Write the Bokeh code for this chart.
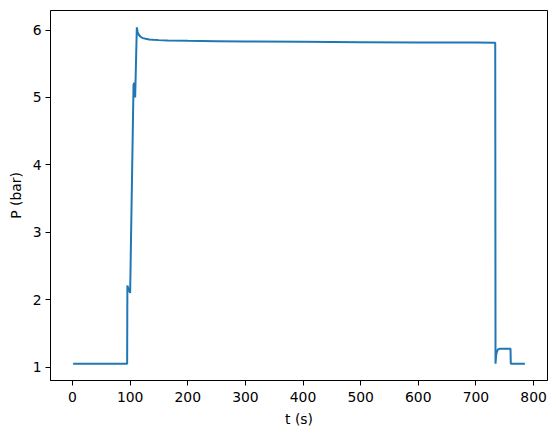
from bokeh.plotting import figure
from bokeh.models import Range1d, ColumnDataSource
from bokeh.embed import file_html
from bokeh.resources import INLINE

# time (s) and pressure (bar)
t_s = [1, 20, 40, 60, 80, 94.8, 95.2, 97, 100, 105.9, 106.3, 106.8, 107.3, 107.8, 108.7,
       111.6, 113, 115, 118, 122, 127, 133, 140, 150, 165, 200, 250, 300, 400, 500,
       600, 700, 733.5, 734, 735, 736.5, 738, 741, 760, 760.5, 785]
P_bar = [1.05, 1.05, 1.05, 1.05, 1.05, 1.05, 2.21, 2.16, 2.10, 5.20, 5.00, 5.22, 5.00, 5.20, 5.00,
         6.04, 5.97, 5.93, 5.90, 5.88, 5.87, 5.86, 5.855, 5.85, 5.845, 5.84, 5.835, 5.83, 5.825, 5.82,
         5.815, 5.815, 5.81, 1.05, 1.17, 1.23, 1.26, 1.27, 1.27, 1.05, 1.05]

x_ticks = [0, 100, 200, 300, 400, 500, 600, 700, 800]
y_ticks = [1, 2, 3, 4, 5, 6]
x_title = "t (s)"
y_title = "P (bar)"

FONT = "DejaVu Sans"
FS = "13.9px"

tmin, tmax = min(t_s), max(t_s)
pmin, pmax = min(P_bar), max(P_bar)
dx = 0.05 * (tmax - tmin)
dy = 0.05 * (pmax - pmin)
x0, x1 = tmin - dx, tmax + dx
y0, y1 = pmin - dy, pmax + dy

W, H = 548, 434
p = figure(width=W, height=H, output_backend="svg", toolbar_location=None,
           x_range=Range1d(x0, x1), y_range=Range1d(y0, y1),
           min_border_left=50, min_border_right=1, min_border_top=10, min_border_bottom=54)

src = ColumnDataSource(dict(t=t_s, P=P_bar))
p.line("t", "P", source=src, line_color="#1f77b4", line_width=2)

p.xgrid.visible = False
p.ygrid.visible = False
p.outline_line_color = "black"
p.outline_line_width = 1
p.background_fill_color = "white"
p.border_fill_color = "white"

for ax in (p.xaxis[0], p.yaxis[0]):
    ax.axis_line_color = "black"
    ax.axis_line_width = 1
    ax.major_tick_line_color = "black"
    ax.major_tick_line_width = 1
    ax.major_tick_out = 5
    ax.major_tick_in = 0
    ax.minor_tick_line_color = None
    ax.major_label_text_font = FONT
    ax.major_label_text_font_size = FS
    ax.major_label_text_color = "black"
    ax.major_label_standoff = 4
    ax.axis_label_text_font = FONT
    ax.axis_label_text_font_size = FS
    ax.axis_label_text_font_style = "normal"
    ax.axis_label_text_color = "black"
p.xaxis.ticker = x_ticks
p.yaxis.ticker = y_ticks
p.xaxis.axis_label = x_title
p.yaxis.axis_label = y_title
p.xaxis.major_label_standoff = 6
p.xaxis.axis_label_standoff = 6
p.yaxis.axis_label_standoff = 6

open("out.html", "w").write(file_html(p, INLINE))
